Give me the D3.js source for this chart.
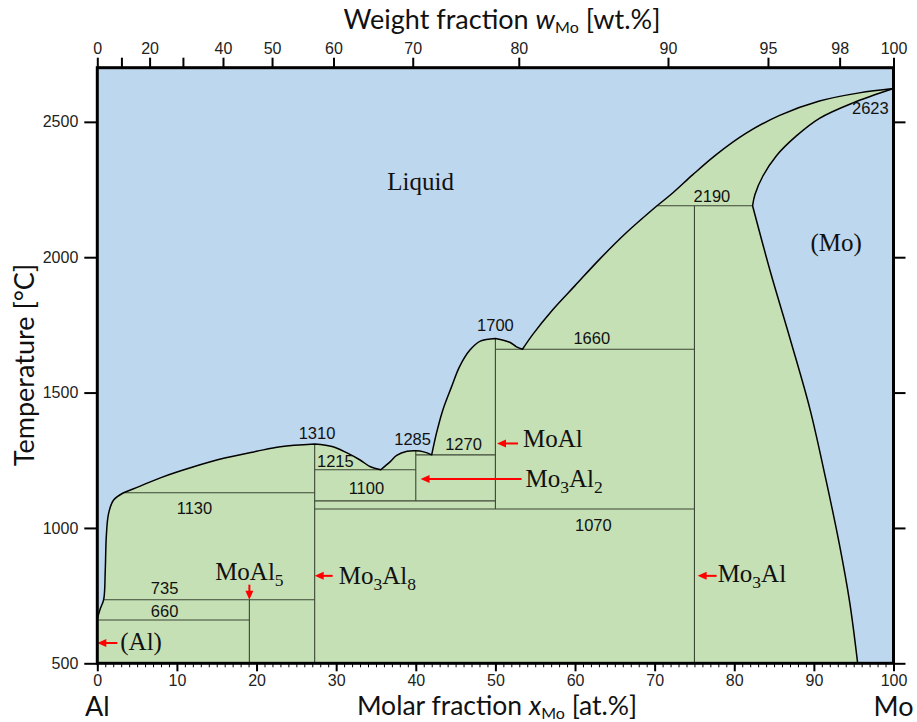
<!DOCTYPE html>
<html>
<head>
<meta charset="utf-8">
<script src="https://cdn.jsdelivr.net/npm/d3@7"></script>
<style>
  body { margin: 0; background: #fff; }
  svg { display: block; }
</style>
</head>
<body>
<svg id="chart" width="917" height="722"></svg>
<script>
// ---- Al–Mo phase diagram: composition in at.% Mo, temperature in °C ----

const xTicks = [0, 10, 20, 30, 40, 50, 60, 70, 80, 90, 100];
const yTicks = [500, 1000, 1500, 2000, 2500];
const wtTicks = [0, 10, 20, 30, 40, 50, 60, 70, 80, 90, 95, 98, 100];
const wtTickLabels = ["0", "", "20", "", "40", "50", "60", "70", "80", "90", "95", "98", "100"];

// Liquidus, split at its eutectic / peritectic / congruent points
const liqAlSide   = [[0, 665], [0.35, 700], [0.8, 735], [1.0, 844], [1.13, 968], [1.42, 1054], [2.05, 1103], [3.3, 1130]];
const liqToMo3Al8 = [[3.3, 1130], [5, 1150], [8, 1186], [12, 1225], [16, 1258], [20, 1283], [23, 1300], [27.3, 1310]];
const liqEut1     = [[27.3, 1310], [29.6, 1300], [31.3, 1278], [33, 1251], [34.3, 1226], [35.6, 1215]];
const liqPeak1285 = [[35.6, 1215], [36.8, 1245], [37.6, 1268], [38.9, 1283], [40, 1285], [41, 1281], [42, 1270]];
const liqToMoAl   = [[42, 1270], [42.6, 1350], [43.4, 1436], [44.5, 1522], [45.5, 1596], [46.8, 1657], [48.1, 1690], [50, 1700]];
const liqEut2     = [[50, 1700], [51.8, 1686], [52.6, 1670], [53.4, 1660]];
const liqToMo3Al  = [[53.4, 1660], [54.7, 1715], [57.2, 1806], [60, 1895], [63.1, 1993], [66.5, 2092], [70.3, 2190]];
const liqToMo     = [[70.3, 2190], [72.3, 2238], [74.8, 2305], [77.7, 2378], [81.5, 2458], [85.7, 2524], [90.7, 2577], [95.7, 2607], [100, 2623]];

// Solidus and solvus of the (Mo) solid solution
const solidusMo = [[100, 2623], [94.9, 2570], [90.7, 2513], [87.8, 2448], [85.3, 2375], [83.6, 2300], [82.6, 2232], [82.3, 2190]];
const solvusMo  = [[82.3, 2190], [84.5, 1950], [87, 1700], [89.5, 1440], [91.5, 1180], [93.2, 940], [94.5, 725], [95.5, 500]];

// Invariant isotherms: temperature and composition span
const isoTemps = [660, 735, 1130, 1215, 1100, 1070, 1270, 1660, 2190];
const isoFrom  = [0, 0.8, 3.3, 27.3, 27.3, 27.3, 40, 50, 70.3];
const isoTo    = [19.1, 27.3, 27.3, 40, 50, 75, 50, 75, 82.3];

// Intermetallic compound lines: composition and temperature span
const cmpX    = [19.1, 27.3, 40, 50, 75];
const cmpFrom = [500, 500, 1100, 1070, 500];
const cmpTo   = [735, 1310, 1285, 1700, 2190];

// Congruent / melting temperatures
const peakTemps = [1310, 1285, 1700, 2623];
const peakX     = [27.3, 40, 50, 100];

// Phase labels with the point each arrow marks
const phaseNames = ["(Al)", "MoAl5", "Mo3Al8", "MoAl", "Mo3Al2", "Mo3Al"];
const phaseX     = [0, 19.1, 27.3, 50.2, 40.6, 75.4];
const phaseT     = [575, 735, 823, 1312, 1181, 823];

// Field labels
const fieldNames = ["Liquid", "(Mo)"];
const fieldX     = [40.6, 92.8];
const fieldT     = [2248, 2024];

// Atomic masses for the wt.% → at.% conversion of the top axis
const MASS_MO = 95.95, MASS_AL = 26.98;
const wtToAt = w => {
  const nMo = w / MASS_MO, nAl = (100 - w) / MASS_AL;
  return 100 * nMo / (nMo + nAl);
};

// ---- layout ----
const svg = d3.select("#chart");
const x = d3.scaleLinear().domain([0, 100]).range([97.3, 893.5]);
const y = d3.scaleLinear().domain([500, 2700]).range([663.3, 67.7]);

const BLUE = "#bdd7ee", GREEN = "#c5e0b4";
const SANS = "'Liberation Sans', Arial, sans-serif";
const SERIF = "'Liberation Serif', 'Times New Roman', serif";
const TITLE = "Lato, 'Open Sans', sans-serif";

const curve = d3.line().x(d => x(d[0])).y(d => y(d[1])).curve(d3.curveCatmullRom.alpha(0.5));
const chain = segs => segs.map((s, i) => i ? curve(s).replace(/^M/, "L") : curve(s)).join("");

const liquidus = [liqAlSide, liqToMo3Al8, liqEut1, liqPeak1285, liqToMoAl, liqEut2, liqToMo3Al, liqToMo];

// Background (liquid and (Mo) fields)
svg.append("rect")
  .attr("x", x(0)).attr("y", y(2700))
  .attr("width", x(100) - x(0)).attr("height", y(500) - y(2700))
  .attr("fill", BLUE);

// Solid / two-phase region
const greenPath = `M${x(0)},${y(500)}` +
  chain(liquidus).replace(/^M/, "L") +
  chain([solidusMo, solvusMo]).replace(/^M/, "L") +
  `L${x(95.5)},${y(500)}Z`;
svg.append("path").attr("d", greenPath).attr("fill", GREEN);

// Isotherms
const inner = svg.append("g").attr("stroke", "#3b4635").attr("stroke-width", 1.1).attr("fill", "none");
isoTemps.forEach((t, i) => {
  inner.append("line")
    .attr("x1", x(isoFrom[i])).attr("x2", x(isoTo[i]))
    .attr("y1", y(t)).attr("y2", y(t));
});
// Compound lines
cmpX.forEach((c, i) => {
  inner.append("line")
    .attr("x1", x(c)).attr("x2", x(c))
    .attr("y1", y(cmpFrom[i])).attr("y2", y(cmpTo[i]));
});

// Phase boundaries
svg.append("path").attr("d", chain(liquidus))
  .attr("fill", "none").attr("stroke", "#000").attr("stroke-width", 1.5).attr("stroke-linejoin", "round");
svg.append("path").attr("d", chain([solidusMo, solvusMo]))
  .attr("fill", "none").attr("stroke", "#000").attr("stroke-width", 1.5).attr("stroke-linejoin", "round");

// Temperature labels of the isotherms: composition of the label centre and offset from the line
const isoLabelAt = { 660: [8.45, -3], 735: [8.45, -6], 1130: [12.2, 21], 1215: [29.9, -3], 1100: [33.8, -7],
                     1070: [62.3, 22], 1270: [46.0, -5], 1660: [62.1, -5], 2190: [77.2, -4] };
const numLabels = svg.append("g").attr("font-family", SANS).attr("font-size", 16.5)
  .attr("fill", "#111").attr("text-anchor", "middle");
isoTemps.forEach(t => {
  const [cx, dy] = isoLabelAt[t];
  numLabels.append("text").attr("x", x(cx)).attr("y", y(t) + dy).text(t);
});
const peakLabelAt = { 1310: [27.6, -5, "middle"], 1285: [39.6, -6, "middle"], 1700: [50.0, -7, "middle"], 2623: [99.4, 25, "end"] };
peakTemps.forEach((t, i) => {
  const [cx, dy, anchor] = peakLabelAt[t];
  numLabels.append("text").attr("x", x(cx)).attr("y", y(t) + dy).attr("text-anchor", anchor).text(t);
});

// Serif labels with subscripted digits
function formula(g, str, size) {
  const parts = str.match(/\d+|\D+/g);
  let shifted = false;
  parts.forEach(p => {
    const isSub = /^\d+$/.test(p);
    const ts = g.append("tspan").text(p);
    if (isSub) { ts.attr("font-size", size * 0.7).attr("dy", 6); shifted = true; }
    else if (shifted) { ts.attr("dy", -6); shifted = false; }
  });
}

// Field labels
fieldNames.forEach((n, i) => {
  svg.append("text").attr("x", x(fieldX[i])).attr("y", y(fieldT[i]))
    .attr("font-family", SERIF).attr("font-size", 25).attr("text-anchor", "middle")
    .attr("fill", "#111").text(n);
});

// Phase labels with red arrows: [direction, arrow length, text gap, baseline offset]
const arrowLayout = {
  "(Al)":   ["left", 20, 3, 7],
  "MoAl5":  ["down", 15, 5, 0],
  "Mo3Al8": ["left", 18, 6, 8],
  "MoAl":   ["left", 21, 5, 4],
  "Mo3Al2": ["left", 101, 4, 8],
  "Mo3Al":  ["left", 19, 1, 6]
};
const arrows = svg.append("g");
phaseNames.forEach((n, i) => {
  const tx = x(phaseX[i]), ty = y(phaseT[i]);
  const [dir, len, gap, base] = arrowLayout[n];
  const head = 9, hw = 4;
  let tail, tri, lbl;
  if (dir === "left") {
    tail = [tx + len, ty];
    tri = [[tx, ty], [tx + head, ty - hw], [tx + head, ty + hw]];
    arrows.append("line").attr("x1", tx + head - 1).attr("y1", ty).attr("x2", tail[0]).attr("y2", ty)
      .attr("stroke", "#ff0000").attr("stroke-width", 2);
    lbl = svg.append("text").attr("x", tail[0] + gap).attr("y", ty + base).attr("text-anchor", "start");
  } else {
    tail = [tx, ty - len];
    tri = [[tx, ty], [tx - hw, ty - head], [tx + hw, ty - head]];
    arrows.append("line").attr("x1", tx).attr("y1", ty - head + 1).attr("x2", tx).attr("y2", tail[1])
      .attr("stroke", "#ff0000").attr("stroke-width", 2);
    lbl = svg.append("text").attr("x", tx).attr("y", tail[1] - gap).attr("text-anchor", "middle");
  }
  arrows.append("path").attr("d", "M" + tri.map(p => p.join(",")).join("L") + "Z").attr("fill", "#ff0000");
  lbl.attr("font-family", SERIF).attr("font-size", 25).attr("fill", "#111");
  formula(lbl, n, 25);
});

// ---- axes ----
function styleAxis(g, width) {
  g.select(".domain").remove();
  g.selectAll(".tick line").attr("stroke", "#000").attr("stroke-width", width);
  g.selectAll(".tick text").attr("font-family", SANS).attr("font-size", 16).attr("fill", "#222");
}

// bottom: minor ticks every 1 at.%, major every 10
svg.append("g").attr("transform", `translate(0,${y(500)})`)
  .call(d3.axisBottom(x).tickValues(d3.range(0, 101, 1)).tickSize(4).tickFormat(""))
  .call(g => styleAxis(g, 1));
svg.append("g").attr("transform", `translate(0,${y(500)})`)
  .call(d3.axisBottom(x).tickValues(xTicks).tickSize(8).tickPadding(3).tickFormat(d3.format("d")))
  .call(g => styleAxis(g, 2));

// left and right temperature ticks
svg.append("g").attr("transform", `translate(${x(0)},0)`)
  .call(d3.axisLeft(y).tickValues(yTicks).tickSize(13).tickPadding(6).tickFormat(d3.format("d")))
  .call(g => styleAxis(g, 2));
svg.append("g").attr("transform", `translate(${x(100)},0)`)
  .call(d3.axisRight(y).tickValues(yTicks).tickSize(12).tickFormat(""))
  .call(g => styleAxis(g, 2));

// top: weight-fraction ticks placed through the at.% scale
const wtAt = wtTicks.map(wtToAt);
svg.append("g").attr("transform", `translate(0,${y(2700)})`)
  .call(d3.axisTop(x).tickValues(wtAt).tickSize(10).tickPadding(4)
    .tickFormat((d, i) => wtTickLabels[i]))
  .call(g => styleAxis(g, 2));

// frame
svg.append("rect")
  .attr("x", x(0)).attr("y", y(2700))
  .attr("width", x(100) - x(0)).attr("height", y(500) - y(2700))
  .attr("fill", "none").attr("stroke", "#000").attr("stroke-width", 3);

// ---- titles ----
function axisTitle(xp, yp, size, pre, v, post, rotate) {
  const t = svg.append("text")
    .attr("font-family", TITLE).attr("font-size", size).attr("fill", "#111")
    .attr("text-anchor", "middle");
  if (rotate) t.attr("transform", `translate(${xp},${yp}) rotate(-90)`);
  else t.attr("x", xp).attr("y", yp);
  t.append("tspan").text(pre);
  if (v) {
    t.append("tspan").attr("font-style", "italic").text(v);
    t.append("tspan").attr("font-size", 16).attr("dy", 3.5).text("Mo");
    t.append("tspan").attr("dy", -3.5).text(post);
  }
  return t;
}
axisTitle(502, 29, 27, "Weight fraction ", "w", " [wt.%]");
axisTitle(497, 715, 26.5, "Molar fraction ", "x", " [at.%]");
axisTitle(34, 365, 27, "Temperature [°C]", null, null, true);

svg.append("text").attr("x", x(0)).attr("y", 716).attr("text-anchor", "middle")
  .attr("font-family", TITLE).attr("font-size", 27).attr("fill", "#111").text("Al");
svg.append("text").attr("x", x(100)).attr("y", 716).attr("text-anchor", "middle")
  .attr("font-family", TITLE).attr("font-size", 27).attr("fill", "#111").text("Mo");
</script>
</body>
</html>
